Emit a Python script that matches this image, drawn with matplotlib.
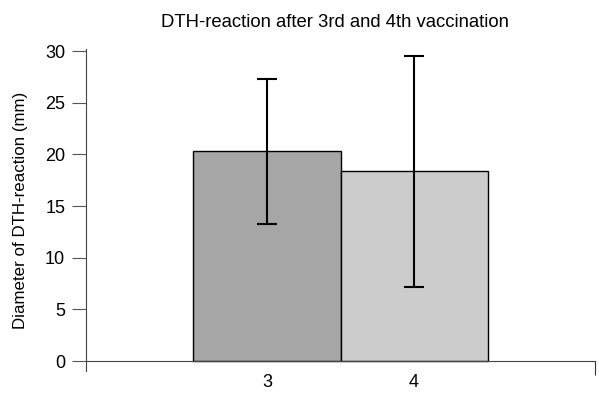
import matplotlib
matplotlib.use("Agg")
import matplotlib.pyplot as plt

categories = ["3", "4"]
means = [20.3, 18.4]
err_low = [13.3, 7.2]
err_high = [27.3, 29.5]
colors = ["#a6a6a6", "#cccccc"]
yticks = [0, 5, 10, 15, 20, 25, 30]

plt.rcParams['font.family'] = ['Liberation Sans', 'DejaVu Sans']

fig = plt.figure(figsize=(5.99, 3.93), dpi=100)
ax = fig.add_axes([0.1436, 0.055, 0.8497, 0.82])

x = [3, 4]
lower = [m - l for m, l in zip(means, err_low)]
upper = [h - m for m, h in zip(means, err_high)]
ax.bar(x, means, width=1.0, color=colors, edgecolor="black", linewidth=1.0, zorder=2)
ax.errorbar(x, means, yerr=[lower, upper], fmt="none", ecolor="black",
            elinewidth=1.5, capsize=7, capthick=1.5, zorder=3)

ax.set_xlim(1.77, 5.23)
ax.set_ylim(-1.0, 30.2)
ax.set_yticks(yticks)
ax.set_xticks(x)
ax.set_xticklabels(categories)
ax.set_xticks([5.23], minor=True)
ax.tick_params(axis="x", which="major", length=0, labelsize=13, pad=9)
ax.tick_params(axis="x", which="minor", length=10, width=0.8, direction="out", color="#333333")
ax.tick_params(axis="y", length=10, width=0.8, labelsize=13, pad=5, color="#555555")

for s in ["top", "right"]:
    ax.spines[s].set_visible(False)
ax.spines["bottom"].set_position(("data", 0))
ax.spines["bottom"].set_color("#444444")
ax.spines["bottom"].set_linewidth(0.8)
ax.spines["left"].set_color("#444444")
ax.spines["left"].set_linewidth(0.8)

ax.set_ylabel("Diameter of DTH-reaction (mm)", fontsize=12.2, labelpad=12)
ax.set_title("DTH-reaction after 3rd and 4th vaccination", fontsize=13.3, pad=16, x=0.49)

fig.savefig("out.png", dpi=100)
